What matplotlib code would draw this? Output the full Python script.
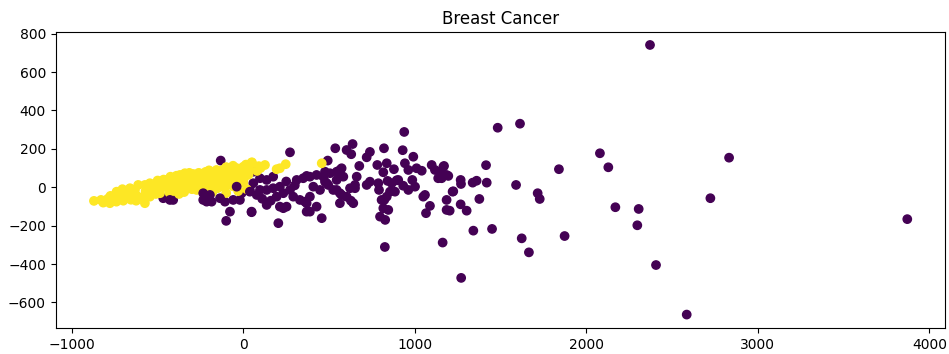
import numpy as np
import matplotlib
matplotlib.use("Agg")
import matplotlib.pyplot as plt

# malignant (class 0) - first two principal components
malignant_x = [2371, 3871, 2585, 2406, 2832, 2723, 2079, 2128, 2169, 2305, 2297, 1873, 1840,
               1613, 1483, 1716, 1728, 1623, 1665, 1590, 1450, 1341, 1162, 1270, 825, 1415,
               1170, 1146, 1156, 1195, 1267, 1269, 1337, 1360, 1419, 1224, 1185, 1376, 1267,
               1302, 1203, 1220, 1185,
               938, 637, 536, 272, 602, 629, 820, 929, 738, 719, 991, 492, 676, 573, 781, 836,
               878, 816, 942, 962, 1010, 1040, 1098, 1117, 1166, 1185, 1136, 985, 932, 894,
               841, 787, 791, 836, 822, 884, 816, 845, 797, 827, 661, 651, 651, 719, 738, 544,
               563, 602, 627, 1049, 1088, 1065, 1059, 962, 1001, 806, 903, 865, 855, 641, 573,
               58, 97, 136, 58, 174, 38, 78, 136, 174, 213, 233, 194, 272, 311, 349, 388, 408,
               388, 369, 427, 457, 330, 291, 252, 213, 136, 48, 204, 466, 505, 544, 563, 486,
               447, 524, 583, 622, 544, -20, -10, 369, 427, 476, -185, -100, -78, 48, 233, 388,
               359, -132, -409, -467, -234, -107, 369, 563, 476, 495, 160, 110, 300, 250]
malignant_y = [741, -166, -663, -405, 154, -57, 177, 104, -104, -113, -198, -254, 94,
               331, 310, -31, -61, -266, -339, 12, -217, -226, -288, -472, -311, 115,
               111, 81, 47, 59, 38, 17, 24, 34, 24, -21, -66, -61, -89,
               -122, -122, -23, -118,
               288, 225, 203, 182, 194, 172, 203, 193, 184, 156, 159, 139, 111, 99, 116, 125,
               94, 78, 125, 90, 99, 86, 116, 90, 107, 64, 47, 38, 8, 36,
               33, 21, -14, -49, -66, -23, -109, -118, -153, -170, 55, 12, -5, 12, 29, -14,
               -31, -49, -70, -49, -97, -135, -40, -14, 3, -66, 38, 21, -23, -83, -40,
               81, 47, 38, 21, 55, -14, -40, -14, -5, 3, -31, -49, -14, 38, 47, 55, 3,
               -49, -83, -101, -161, -66, -49, -101, -101, -92, -130, -187, 55, 73, 81, 90, 21,
               -14, -14, 55, -5, 38, -66, -31, 59, 64, 81, -75, -175, -127, -127, -109, -127,
               -75, 139, -66, -57, -66, -75, -127, -83, 29, 12, -70, -60, 10, 30]

# benign (class 1)
benign_x = [-871, -830, -817, -778, -775, -790, -740, -739, -745, -700, -700, -705,
            -661, -660, -655, -632, -613, -620, -625, -574, -574, -570, -580, -545, -545,
            -540, -506, -500, -510, -486, -486, -470, -465, -447, -428, -430, -425, -409,
            -400, -395, -390, -370, -370, -365, -375, -341, -340, -335, -345, -311, -305,
            -300, -315, -292, -272, -270, -265, -260, -234, -230, -225, -220, -200, -195,
            -190, -156, -160, -155, -150, -120, -115, -120, -110, -78, -80, -75, -40, -40,
            -35, -45, 0, -5, 5, 0, 48, 40, 30, 126, 100, 80, 194, 213, 247, 457, -10, 50,
            -180, -100, -30, 20, -68, -250, -210, -140, -60, -60, 15, 90, -100, -200]
benign_y = [-71, -66, -80, -83, -45, -60, -75, -23, -50, -70, -31, -10,
            -5, -40, -65, -14, 12, -45, -70, 12, -83, -20, -50, 21, -49,
            -10, 3, 35, -35, 29, -31, 0, 40, 38, 3, -30, 55, 47,
            15, -20, 60, 64, 21, -15, -35, 73, 40, 5, -25, 21, 55,
            -10, 75, 69, -14, 40, 10, 75, 47, 15, -10, 80, 60, 30,
            0, 90, 55, 20, -5, 90, 60, 30, 0, 90, 60, 25, 100, 70,
            40, 15, 107, 80, 50, 25, 128, 95, 65, 116, 100, 85, 94, 99, 120, 125, 99, 130,
            -25, -30, -20, -10, 21, 25, 45, 70, 5, 112, 118, 110, 105, 88]

# malignant points that sit on top of the benign cloud
front_x = [-234, -195, -136, -59, -39, 38, 97, -428, -214]
front_y = [-31, -40, -57, -66, 3, -23, -14, -66, -75]

x = np.array(malignant_x + benign_x + front_x)
y = np.array(malignant_y + benign_y + front_y)
target = np.array([0] * len(malignant_x) + [1] * len(benign_x) + [0] * len(front_x))

fig = plt.figure(figsize=(9.49, 3.54), dpi=100)
ax = fig.add_axes([0.0587, 0.0734, 0.9371, 0.8354])
ax.scatter(x, y, c=target)
ax.set_xlim(-1094, 4091)
ax.set_ylim(-733, 807)
ax.set_title("Breast Cancer")
fig.savefig("out.png", dpi=100)
